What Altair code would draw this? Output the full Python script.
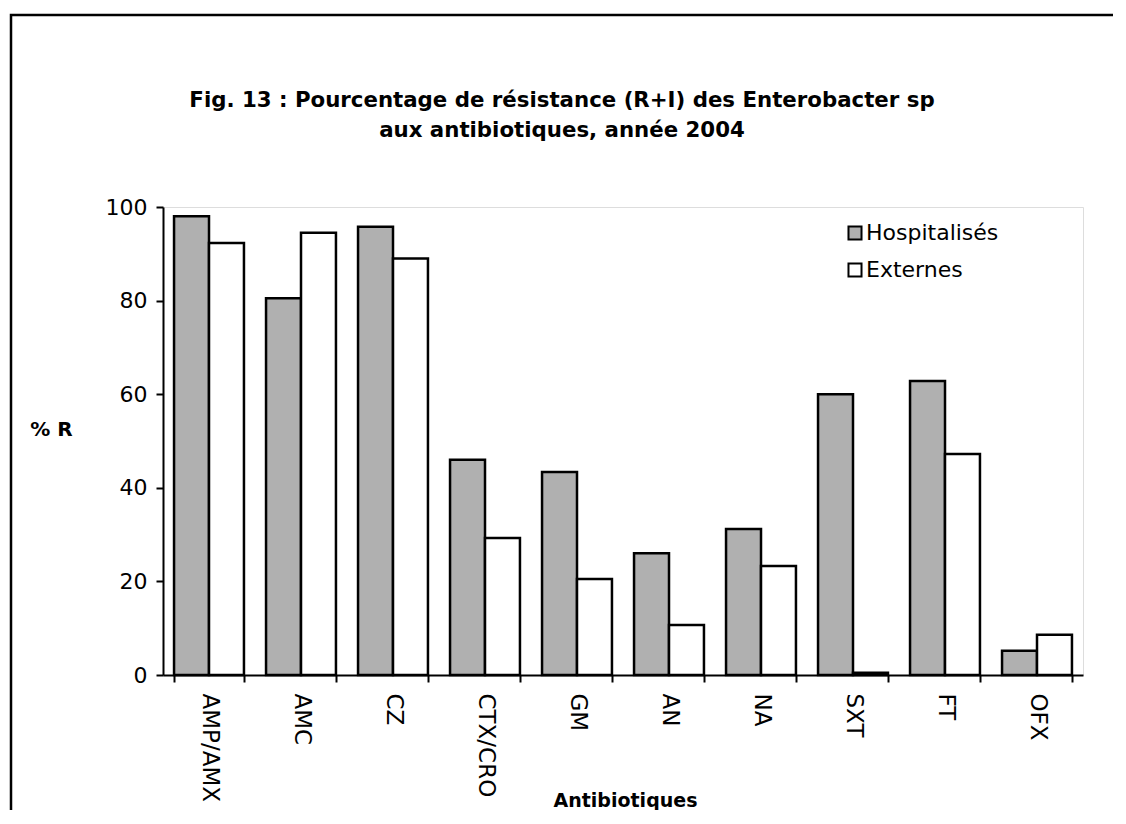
import altair as alt
import pandas as pd

categories = ["AMP/AMX", "AMC", "CZ", "CTX/CRO", "GM", "AN", "NA", "SXT", "FT", "OFX"]
hospitalises = [98.0, 80.5, 95.8, 46.0, 43.4, 26.0, 31.2, 60.0, 62.8, 5.2]
externes = [92.3, 94.5, 89.0, 29.3, 20.5, 10.7, 23.3, 0.5, 47.2, 8.6]
series = ["Hospitalisés", "Externes"]
series_colors = ["#b0b0b0", "#ffffff"]
y_ticks = [0, 20, 40, 60, 80, 100]

rows = []
for i, c in enumerate(categories):
    rows.append({"cat": c, "serie": series[0], "val": hospitalises[i]})
    rows.append({"cat": c, "serie": series[1], "val": externes[i]})
df = pd.DataFrame(rows)

FONT = "DejaVu Sans"

bars = alt.Chart(df).mark_bar(stroke="black", strokeWidth=2.5).encode(
    x=alt.X("cat:N", sort=categories,
            scale=alt.Scale(paddingInner=0.24, paddingOuter=0.12),
            axis=alt.Axis(title="Antibiotiques", labelAngle=90, labelFontSize=23,
                          labelFont=FONT, labelColor="black", labelPadding=11,
                          tickBand="extent", tickSize=7, tickColor="black",
                          tickWidth=2, domainColor="black", domainWidth=2,
                          titleFont=FONT, titleFontSize=19, titleFontWeight="bold",
                          titleColor="black", titleX=462, titleY=125,
                          titleAlign="center", titleBaseline="middle")),
    xOffset=alt.XOffset("serie:N", sort=series),
    y=alt.Y("val:Q", scale=alt.Scale(domain=[0, 100]),
            axis=alt.Axis(title="% R", values=y_ticks, grid=False, labelFontSize=22,
                          labelFont=FONT, labelColor="black", labelPadding=9,
                          tickSize=7, tickColor="black", tickWidth=2,
                          domainColor="black", domainWidth=2,
                          titleFont=FONT, titleFontSize=20, titleFontWeight="bold",
                          titleColor="black", titleAngle=0, titleX=-112, titleY=222,
                          titleAlign="center", titleBaseline="middle")),
    fill=alt.Fill("serie:N", sort=series,
                  scale=alt.Scale(domain=series, range=series_colors),
                  legend=alt.Legend(title=None, orient="none", legendX=681, legendY=15,
                                    symbolType="square", symbolSize=170,
                                    symbolStrokeColor="black", symbolStrokeWidth=2,
                                    labelFont=FONT, labelFontSize=22, labelColor="black",
                                    labelOffset=0, rowPadding=15, padding=0)),
)

frame = alt.Chart(pd.DataFrame({"a": [0]})).mark_rect(
    fill="white", fillOpacity=0, stroke="black", strokeWidth=2.5
).encode(x=alt.value(-152), y=alt.value(-192), x2=alt.value(1200), y2=alt.value(900))

chart = alt.layer(frame, bars).properties(
    width=920, height=468,
    title=alt.TitleParams(
        text=["Fig. 13 : Pourcentage de résistance (R+I) des Enterobacter sp",
              "aux antibiotiques, année 2004"],
        font=FONT, fontSize=21.3, fontWeight="bold", color="black",
        anchor="middle", frame="group", dx=-61, offset=-128, lineHeight=30),
    autosize=alt.AutoSizeParams(type="none"),
    padding={"left": 155, "top": 199, "right": 30, "bottom": 135},
).configure_view(stroke=None).configure(background="white")

chart.save("out.html", embed_options={"renderer": "svg", "actions": False})
